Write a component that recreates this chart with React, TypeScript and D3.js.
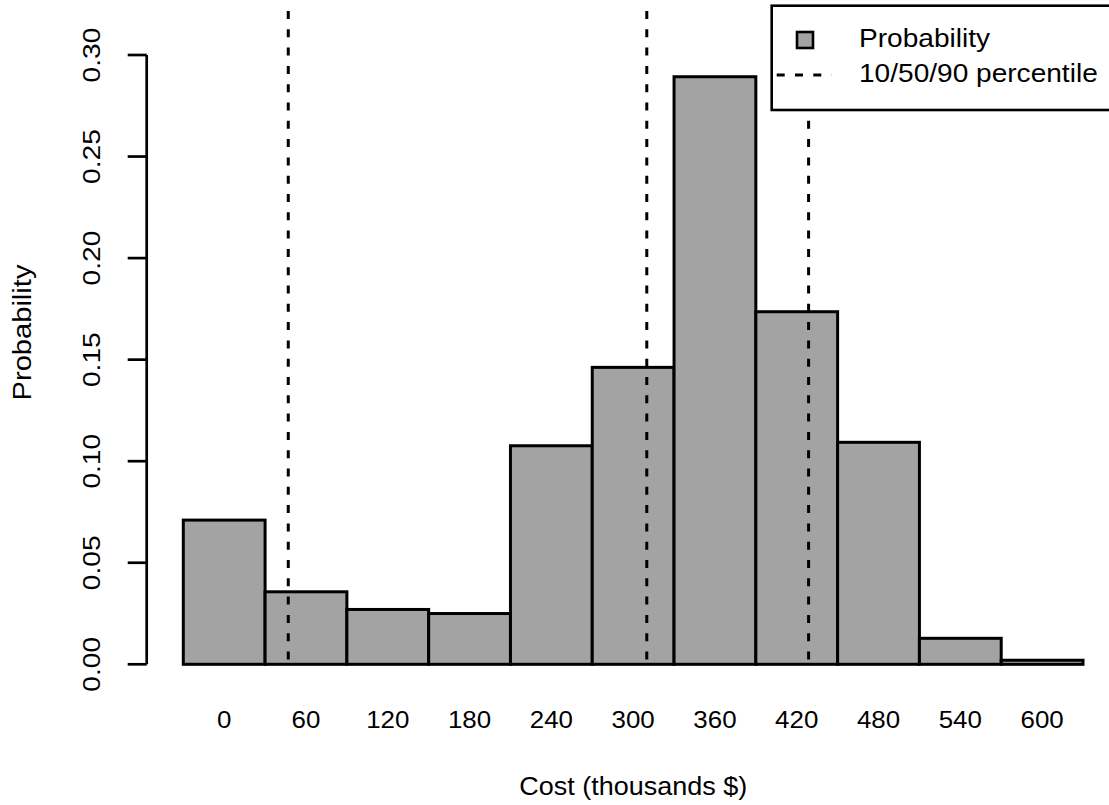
import React from "react";
import * as d3 from "d3";

const binCenters = [0, 60, 120, 180, 240, 300, 360, 420, 480, 540, 600];
const probabilities = [0.071, 0.0357, 0.027, 0.025, 0.1076, 0.1462, 0.2893, 0.1736, 0.1093, 0.0128, 0.002];
const binWidth = 60;
const percentiles = [47, 310, 428.7];
const yTicks = [0, 0.05, 0.1, 0.15, 0.2, 0.25, 0.3];
const xTickLabels = ["0", "60", "120", "180", "240", "300", "360", "420", "480", "540", "600"];
const legendLabels = ["Probability", "10/50/90 percentile"];

const W = 1109;
const H = 805;
const FONT = "'Liberation Sans', Arial, Helvetica, sans-serif";

export default function App() {
  const x = d3.scaleLinear().domain([-30, 630]).range([183.3, 1083]);
  const y = d3.scaleLinear().domain([0, 0.3]).range([664.3, 55]);
  const axisX = 146.7;
  const fill = "#a3a3a3";
  const dash = "8 10.3";
  const hs = 1.08; // horizontal glyph stretch

  return (
    <svg
      width={W}
      height={H}
      style={{ position: "absolute", left: 0, top: 0, background: "#fff" }}
      fontFamily={FONT}
    >
      <rect x={0} y={0} width={W} height={H} fill="#fff" />
      {/* bars */}
      {binCenters.map((c, i) => (
        <rect
          key={c}
          x={x(c - binWidth / 2)}
          y={y(probabilities[i])}
          width={x(c + binWidth / 2) - x(c - binWidth / 2)}
          height={y(0) - y(probabilities[i])}
          fill={fill}
          stroke="#000"
          strokeWidth={3}
        />
      ))}
      {/* percentile lines */}
      {percentiles.map((p) => (
        <line
          key={p}
          x1={x(p)}
          x2={x(p)}
          y1={11}
          y2={y(0)}
          stroke="#000"
          strokeWidth={3}
          strokeDasharray={dash}
        />
      ))}
      {/* y axis */}
      <line x1={axisX} x2={axisX} y1={y(0.3)} y2={y(0)} stroke="#000" strokeWidth={2.7} />
      {yTicks.map((t) => (
        <g key={t}>
          <line x1={axisX - 19} x2={axisX} y1={y(t)} y2={y(t)} stroke="#000" strokeWidth={2.7} />
          <text
            transform={`translate(${100},${y(t)}) rotate(-90) scale(1.15,1)`}
            textAnchor="middle"
            fontSize={24.5}
            fill="#000"
          >
            {d3.format(".2f")(t)}
          </text>
        </g>
      ))}
      {/* x labels */}
      {binCenters.map((c, i) => (
        <text
          key={c}
          transform={`translate(${x(c)},728) scale(${hs},1)`}
          textAnchor="middle"
          fontSize={24}
          fill="#000"
        >
          {xTickLabels[i]}
        </text>
      ))}
      {/* axis titles */}
      <text transform={`translate(${x(300)},795) scale(${hs},1)`} textAnchor="middle" fontSize={25} fill="#000">
        Cost (thousands $)
      </text>
      <text transform={`translate(30.5,332.5) rotate(-90) scale(1.12,1)`} textAnchor="middle" fontSize={26} fill="#000">
        Probability
      </text>
      {/* legend */}
      <rect x={771.7} y={5.7} width={360} height={104.3} fill="#fff" stroke="#000" strokeWidth={2.6} />
      <rect x={797} y={32} width={16} height={16} fill={fill} stroke="#000" strokeWidth={2.6} />
      <line x1={776.7} x2={831.7} y1={75} y2={75} stroke="#000" strokeWidth={3} strokeDasharray={dash} />
      <text transform={`translate(859,47) scale(${hs},1)`} fontSize={26} fill="#000">{legendLabels[0]}</text>
      <text transform={`translate(859,82) scale(${hs},1)`} fontSize={26} fill="#000">{legendLabels[1]}</text>
    </svg>
  );
}
